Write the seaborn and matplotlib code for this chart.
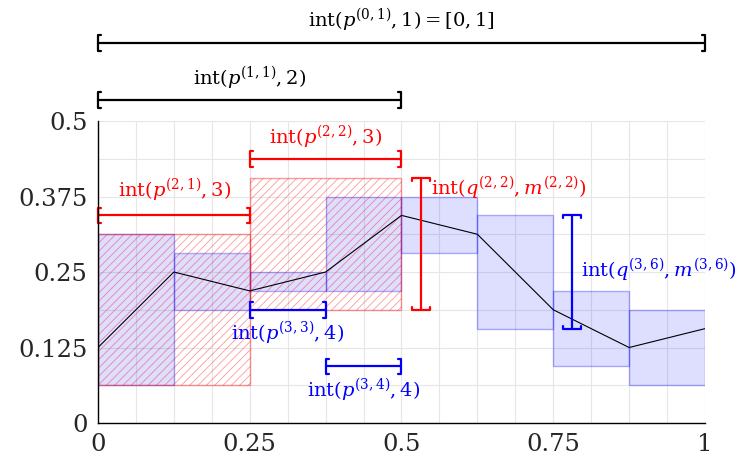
import numpy as np
import pandas as pd
import matplotlib
matplotlib.use("Agg")
import matplotlib.pyplot as plt
import seaborn as sns

# data
x_pts = [0, 0.125, 0.25, 0.375, 0.5, 0.625, 0.75, 0.875, 1.0]
y_pts = [0.125, 0.25, 0.21875, 0.25, 0.34375, 0.3125, 0.1875, 0.125, 0.15625]

# fine boxes (width 0.125): left edge, low, high
blue_left = [0, 0.125, 0.25, 0.375, 0.5, 0.625, 0.75, 0.875]
blue_low = [0.0625, 0.1875, 0.21875, 0.21875, 0.28125, 0.15625, 0.09375, 0.0625]
blue_high = [0.3125, 0.28125, 0.25, 0.375, 0.375, 0.34375, 0.21875, 0.1875]

# coarse hatched boxes (width 0.25)
red_left = [0, 0.25]
red_low = [0.0625, 0.1875]
red_high = [0.3125, 0.40625]

# horizontal brackets: x0, x1, y, colour
hbrackets = [(0, 1, 0.629, 'black'), (0, 0.5, 0.535, 'black'),
             (0, 0.25, 0.34375, 'red'), (0.25, 0.5, 0.4375, 'red'),
             (0.25, 0.375, 0.1875, 'blue'), (0.375, 0.5, 0.09375, 'blue')]
# vertical brackets: x, y0, y1, colour
vbrackets = [(0.532, 0.1875, 0.40625, 'red'), (0.781, 0.15625, 0.34375, 'blue')]

# labels: text, x, y, colour, ha
labels = [(r'$\mathrm{int}(p^{(0,1)}, 1) = [0, 1]$', 0.5, 0.667, 'black', 'center'),
          (r'$\mathrm{int}(p^{(1,1)}, 2)$', 0.25, 0.571, 'black', 'center'),
          (r'$\mathrm{int}(p^{(2,1)}, 3)$', 0.127, 0.386, 'red', 'center'),
          (r'$\mathrm{int}(p^{(2,2)}, 3)$', 0.375, 0.4735, 'red', 'center'),
          (r'$\mathrm{int}(q^{(2,2)}, m^{(2,2)})$', 0.548, 0.389, 'red', 'left'),
          (r'$\mathrm{int}(q^{(3,6)}, m^{(3,6)})$', 0.795, 0.253, 'blue', 'left'),
          (r'$\mathrm{int}(p^{(3,3)}, 4)$', 0.313, 0.149, 'blue', 'center'),
          (r'$\mathrm{int}(p^{(3,4)}, 4)$', 0.437, 0.0546, 'blue', 'center')]

xticks = [0, 0.25, 0.5, 0.75, 1]
xtick_labels = ['0', '0.25', '0.5', '0.75', '1']
yticks = [0, 0.125, 0.25, 0.375, 0.5]
ytick_labels = ['0', '0.125', '0.25', '0.375', '0.5']

sns.set_style("white")
plt.rcParams['font.family'] = ['DejaVu Serif']
plt.rcParams['mathtext.fontset'] = 'dejavuserif'
plt.rcParams['hatch.linewidth'] = 0.6

fig = plt.figure(figsize=(7.39, 4.61), dpi=100)
ax = fig.add_axes([0.1326, 0.0824, 0.8214, 0.6551])

ax.bar(blue_left, np.array(blue_high) - np.array(blue_low), bottom=blue_low, width=0.125,
       align='edge', color=(0, 0, 1, 0.13), edgecolor=(0, 0, 1, 0.3), linewidth=1, zorder=2)
ax.bar(red_left, np.array(red_high) - np.array(red_low), bottom=red_low, width=0.25,
       align='edge', color='none', edgecolor=(1, 0, 0, 0.4), hatch='////', linewidth=1, zorder=3)

df = pd.DataFrame({'x': x_pts, 'y': y_pts})
sns.lineplot(data=df, x='x', y='y', color='black', linewidth=0.8, ax=ax, zorder=4)

# bracket end sizes in data units
hx, hy = 0.005, 0.013
for x0, x1, y, c in hbrackets:
    ax.plot([x0, x1], [y, y], color=c, lw=1.6, clip_on=False, zorder=5)
    ax.plot([x0 + hx, x0, x0, x0 + hx], [y - hy, y - hy, y + hy, y + hy], color=c, lw=1.6,
            clip_on=False, zorder=5)
    ax.plot([x1 - hx, x1, x1, x1 - hx], [y - hy, y - hy, y + hy, y + hy], color=c, lw=1.6,
            clip_on=False, zorder=5)
vx, vy = 0.015, 0.005
for x, y0, y1, c in vbrackets:
    ax.plot([x, x], [y0, y1], color=c, lw=1.6, zorder=5)
    ax.plot([x - vx, x - vx, x + vx, x + vx], [y0 + vy, y0, y0, y0 + vy], color=c, lw=1.6, zorder=5)
    ax.plot([x - vx, x - vx, x + vx, x + vx], [y1 - vy, y1, y1, y1 - vy], color=c, lw=1.6, zorder=5)

for txt, x, y, c, ha in labels:
    ax.text(x, y, txt, color=c, ha=ha, va='center', fontsize=14, zorder=6)

ax.set_xlim(0, 1)
ax.set_ylim(0, 0.5)
ax.set_xticks(xticks)
ax.set_xticklabels(xtick_labels)
ax.set_yticks(yticks)
ax.set_yticklabels(ytick_labels)
ax.set_xticks(np.arange(0, 1.0001, 0.0625), minor=True)
ax.set_yticks(np.arange(0, 0.5001, 0.0625), minor=True)
ax.grid(True, which='both', color='#e6e6e6', linewidth=0.8, zorder=0)
ax.set_axisbelow(True)
ax.tick_params(which='major', direction='inout', length=8, width=1, labelsize=17.5, color='black')
ax.tick_params(which='minor', length=0)
ax.set_xlabel('')
ax.set_ylabel('')
for s in ['top', 'right']:
    ax.spines[s].set_visible(False)
for s in ['left', 'bottom']:
    ax.spines[s].set_color('black')
    ax.spines[s].set_linewidth(1)
    ax.spines[s].set_zorder(7)

fig.savefig('out.png', dpi=100)
